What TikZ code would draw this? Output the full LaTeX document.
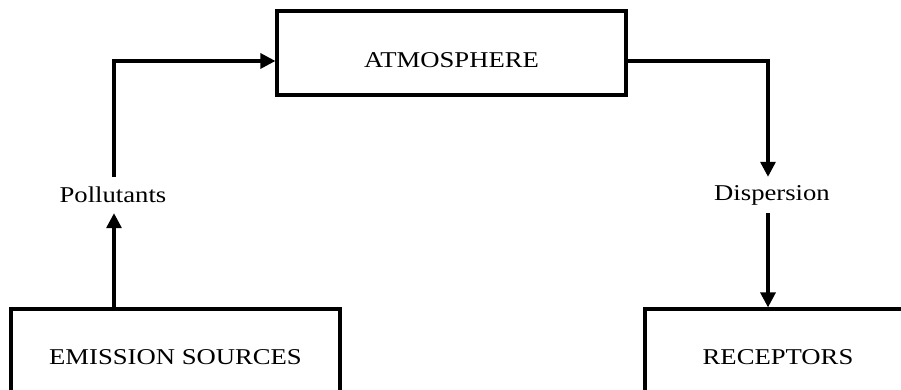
\documentclass[tikz,border=0pt]{standalone}
\usepackage{fontspec}
\setmainfont{Liberation Serif}[FakeStretch=1.18]
\usetikzlibrary{arrows.meta,calc}
\begin{document}
\begin{tikzpicture}[x=1pt,y=1pt,
  box/.style={draw=black,line width=3.2pt,inner sep=0pt,font=\fontsize{22.6}{27}\selectfont},
  lbl/.style={inner sep=0pt,minimum height=36pt,font=\fontsize{22.6}{27}\selectfont},
  conn/.style={line width=3.2pt,-{Triangle[length=15pt,width=15pt]}},
  plain/.style={line width=3.2pt}]
\clip (0,0) rectangle (901,390);
\fill[white] (0,0) rectangle (901,390);
\node[box,minimum width=349pt,minimum height=84pt] (atm) at (451.5,337) {};
\node[font=\fontsize{22.6}{27}\selectfont,inner sep=0pt] (atmtxt) at (451.5,330) {ATMOSPHERE};
\node[box,minimum width=329pt,minimum height=97pt] (emi) at (175.5,32.5) {EMISSION SOURCES};
\node[box,minimum width=266pt,minimum height=97pt] (rec) at (778,32.5) {RECEPTORS};
\node[lbl] (pol) at (113,195) {Pollutants};
\node[lbl] (dis) at (772,195) {Dispersion};
\coordinate (c1) at (114,329);
\coordinate (c2) at (768,329);
\draw[conn] (c1 |- emi.north) -- (c1 |- pol.south);
\draw[conn] (c1 |- pol.north) -- (c1) -- (c1 -| atm.west);
\draw[conn] (c2 -| atm.east) -- (c2) -- (c2 |- dis.north);
\draw[conn] (c2 |- dis.south) -- (c2 |- rec.north);
\end{tikzpicture}
\end{document}
